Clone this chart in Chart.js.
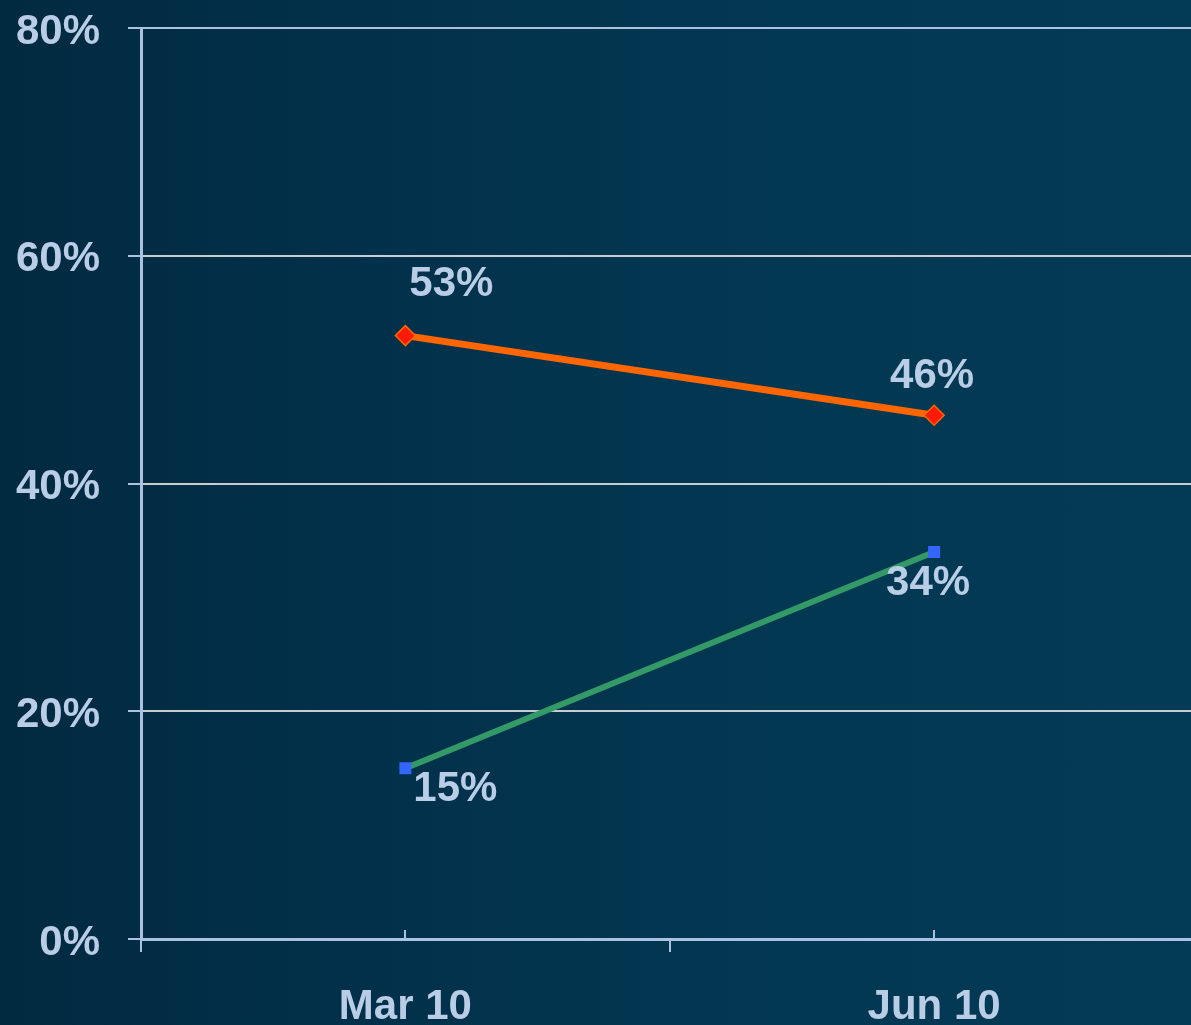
<!DOCTYPE html>
<html>
<head>
<meta charset="utf-8">
<script src="https://cdn.jsdelivr.net/npm/chart.js@4.4.0/dist/chart.umd.min.js"></script>
<style>
  html, body {
    margin: 0;
    padding: 0;
    width: 1191px;
    height: 1025px;
    overflow: hidden;
    background: linear-gradient(90deg, #012a40 0%, #02304a 30%, #033852 65%, #033a55 100%);
  }
  #wrap {
    position: absolute;
    left: 0;
    top: -25px;      /* Chart.js reserves room above the 80% label; pull it up */
    width: 1210px;   /* plot runs a few px past the window edge, as in the source */
    height: 1050px;
  }
</style>
</head>
<body>
<div id="wrap"><canvas id="chart"></canvas></div>
<script>
  // --- data ---
  const categories = ['Mar 10', 'Jun 10'];
  const orangeSeries = [53, 46];
  const greenSeries = [15, 34];
  const yTicks = [0, 20, 40, 60, 80];

  const COLORS = {
    orange:     '#ff6600',
    diamond:    '#ff1a00',
    green:      '#339966',
    square:     '#3366ff',
    axis:       '#a9c1e3',
    grid:       '#c6cccf',
    text:       '#b9cde6',
  };

  // label placement relative to each point (pixels), per series
  const LABEL_OFFSETS = [
    [[46, -51], [-2, -39]],
    [[50, 21], [-6, 32]],
  ];

  const FONT = '"Liberation Sans", Arial, sans-serif';

  // value labels next to the markers
  const valueLabels = {
    id: 'valueLabels',
    afterDatasetsDraw(chart) {
      const ctx = chart.ctx;
      ctx.save();
      ctx.font = 'bold 42px ' + FONT;
      ctx.fillStyle = COLORS.text;
      ctx.textAlign = 'center';
      ctx.textBaseline = 'middle';
      chart.data.datasets.forEach((ds, di) => {
        chart.getDatasetMeta(di).data.forEach((pt, i) => {
          const off = LABEL_OFFSETS[di][i];
          ctx.fillText(ds.data[i] + '%', pt.x + off[0], pt.y + off[1]);
        });
      });
      ctx.restore();
    }
  };

  // short tick marks above the x axis at each category centre
  const centreTicks = {
    id: 'centreTicks',
    afterDraw(chart) {
      const x = chart.scales.x;
      const ctx = chart.ctx;
      ctx.save();
      ctx.strokeStyle = COLORS.axis;
      ctx.lineWidth = 2;
      categories.forEach((c, i) => {
        const px = Math.round(x.getPixelForValue(i));
        ctx.beginPath();
        ctx.moveTo(px, x.top);
        ctx.lineTo(px, x.top - 9);
        ctx.stroke();
      });
      ctx.restore();
    }
  };

  new Chart(document.getElementById('chart'), {
    type: 'line',
    data: {
      labels: categories,
      datasets: [
        {
          data: orangeSeries,
          borderColor: COLORS.orange,
          borderWidth: 7,
          pointStyle: 'rectRot',
          pointRadius: 10,
          pointBackgroundColor: COLORS.diamond,
          pointBorderColor: COLORS.orange,
          pointBorderWidth: 1.5,
          tension: 0,
        },
        {
          data: greenSeries,
          borderColor: COLORS.green,
          borderWidth: 6,
          pointStyle: 'rect',
          pointRadius: 8.5,
          pointBackgroundColor: COLORS.square,
          pointBorderColor: COLORS.square,
          pointBorderWidth: 0,
          tension: 0,
        },
      ],
    },
    options: {
      responsive: true,
      maintainAspectRatio: false,
      animation: false,
      layout: { padding: { top: 2, right: 1, left: 0, bottom: 0 } },
      plugins: {
        legend: { display: false },
        tooltip: { enabled: false },
      },
      scales: {
        x: {
          offset: true,
          afterFit: s => { s.height = 86; },
          grid: {
            offset: true,
            drawOnChartArea: false,
            color: COLORS.axis,
            lineWidth: 2,
            tickLength: 13,
          },
          border: { color: COLORS.axis, width: 3 },
          ticks: {
            color: COLORS.text,
            padding: 30,
            maxRotation: 0,
            font: { family: FONT, size: 42, weight: 'bold' },
          },
        },
        y: {
          min: 0,
          max: 80,
          afterFit: s => { s.width = 141; },
          afterBuildTicks: s => { s.ticks = yTicks.map(v => ({ value: v })); },
          grid: {
            color: ctx => (ctx.tick && ctx.tick.value === 80) ? COLORS.axis : COLORS.grid,
            tickColor: COLORS.axis,
            lineWidth: 2,
            tickLength: 13,
          },
          border: { color: COLORS.axis, width: 3 },
          ticks: {
            color: COLORS.text,
            padding: 28,
            labelOffset: 4,
            font: { family: FONT, size: 42, weight: 'bold' },
            callback: v => v + '%',
          },
        },
      },
    },
    plugins: [valueLabels, centreTicks],
  });
</script>
</body>
</html>
